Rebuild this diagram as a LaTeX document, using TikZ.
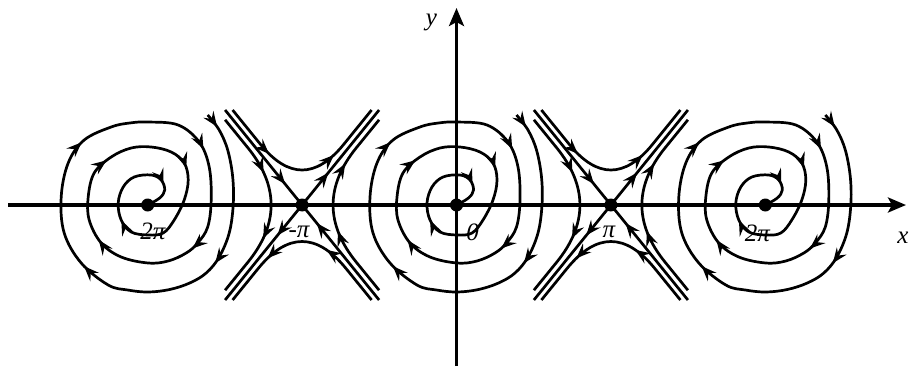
\documentclass[tikz,border=0pt]{standalone}
\usepackage{fontspec}
\setmainfont{Liberation Serif}
\usetikzlibrary{arrows.meta,decorations.markings}
\tikzset{
  ftip/.tip={Stealth[length=15pt,width=12pt,inset=5.5pt]},
  flow/.style={line width=2.7pt, line join=round},
  axisline/.style={line width=3.3pt, -{Stealth[length=18pt,width=15pt,inset=4pt]}},
  dot/.style={circle, fill=black, inner sep=0pt, minimum size=13pt},
  lbl/.style={font=\fontsize{25}{29}\selectfont\itshape, inner sep=0pt},
  mk/.style={postaction={decorate}, decoration={markings, mark=at position #1 with {\arrow{ftip}}}},
  mktwo/.style 2 args={postaction={decorate}, decoration={markings,
      mark=at position #1 with {\arrow{ftip}}, mark=at position #2 with {\arrow{ftip}}}},
  spiral/.pic={
    \draw[flow, postaction={decorate}, decoration={markings,
        mark=at position 15pt with {\arrow{ftip}},
        mark=at position 158pt with {\arrow{ftip}},
        mark=at position 305pt with {\arrow{ftip}},
        mark=at position 440pt with {\arrow{ftip}},
        mark=at position 577pt with {\arrow{ftip}},
        mark=at position 683pt with {\arrow{ftip}},
        mark=at position 787pt with {\arrow{ftip}},
        mark=at position 875pt with {\arrow{ftip}},
        mark=at position 966pt with {\arrow{ftip}},
        mark=at position 1087pt with {\arrow{ftip}},
        mark=at position 1170pt with {\arrow{ftip}}}]
      plot[smooth, tension=0.6] coordinates {
        (60,-90) (71.5,-75) (80,-55) (85,-28) (85.5,0) (81.5,28) (71.5,52) (58.5,68)
        (42,78) (22,84.5) (0.5,87) (-20,85) (-39.5,80) (-66.5,58) (-83.5,28) (-86.5,-8) (-79.5,-42)
        (-63.5,-65) (-36.5,-78) (-18,-82) (0.5,-83) (30.5,-80) (51.5,-63) (61.5,-38) (63.5,-5)
        (60,22) (50,38) (38.5,48) (20.5,56) (0.5,58) (-26.5,52) (-46.5,38) (-58.5,15)
        (-59.5,-8) (-53.5,-32) (-36.5,-48) (-16.5,-57) (3.5,-58) (23.5,-53) (36.5,-42)
        (40.5,-25) (36.5,-5) (26.5,15) (15.5,28) (0.5,30) (-16.5,27) (-26.5,15)
        (-29.5,-2) (-24.5,-18) (-13.5,-28) (3.5,-30) (13.5,-25) (17,-15) (12,-7) (0,0)};
    \node[dot] (-c) at (0,0) {};
  },
  saddle/.pic={
    \coordinate (-ul) at (-77,-95);
    \coordinate (-ur) at (77,-95);
    \coordinate (-ll) at (-77,95);
    \coordinate (-lr) at (77,95);
    \coordinate (-o) at (0,0);
    \draw[flow, mk=0.78] (-ul) -- (-o);
    \draw[flow, mk=0.34] (-o) -- (-ur);
    \draw[flow, mk=0.32] (-o) -- (-ll);
    \draw[flow, mk=0.81] (-lr) -- (-o);
    % top branch, left to right
    \draw[flow, mktwo={0.30}{0.69}] (-69.5,-95) -- (-41.5,-60.5)
      .. controls (-13.83,-26.5) and (13.83,-26.5) .. (41.5,-60.5) -- (69.5,-95);
    % bottom branch, right to left
    \draw[flow, mktwo={0.36}{0.71}] (69.5,95) -- (43.9,63.5)
      .. controls (14.63,27.5) and (-14.63,27.5) .. (-43.9,63.5) -- (-69.5,95);
    % left branch, top to bottom
    \draw[flow, mktwo={0.33}{0.675}] (-77,-85.2) -- (-54.3,-57.3)
      .. controls (-23.2,-19.1) and (-23.2,19.1) .. (-54.3,57.3) -- (-77,85.2);
    % right branch, bottom to top
    \draw[flow, mktwo={0.365}{0.72}] (77,85.2) -- (54.3,57.3)
      .. controls (23.2,19.1) and (23.2,-19.1) .. (54.3,-57.3) -- (77,-85.2);
    \node[dot] (-s) at (0,0) {};
  },
}
\begin{document}
\begin{tikzpicture}[x=1pt,y=-1pt]
\useasboundingbox (0,0) rectangle (910,383);
% axes
\coordinate (xs) at (8,205);
\coordinate (xe) at (906,205);
\coordinate (ys) at (456.5,366);
\coordinate (ye) at (456.5,8);
\draw[axisline] (xs) -- (xe);
\draw[axisline] (ys) -- (ye);
% phase portrait
\pic (sp1) at (147.7,205) {spiral};
\pic (sd1) at (302.1,205) {saddle};
\pic (sp2) at (456.5,205) {spiral};
\pic (sd2) at (610.9,205) {saddle};
\pic (sp3) at (765.3,205) {spiral};
% labels
\node[lbl] (t1) at (153,231) {2π};
\node[lbl] (t2) at (299,232) {-π};
\node[lbl] (t3) at (472.5,232) {0};
\node[lbl] (t4) at (609,232) {π};
\node[lbl] (t5) at (757.5,233) {2π};
\node[lbl] (tx) at (903,238) {x};
\node[lbl] (ty) at (431.5,22) {y};
\end{tikzpicture}
\end{document}
